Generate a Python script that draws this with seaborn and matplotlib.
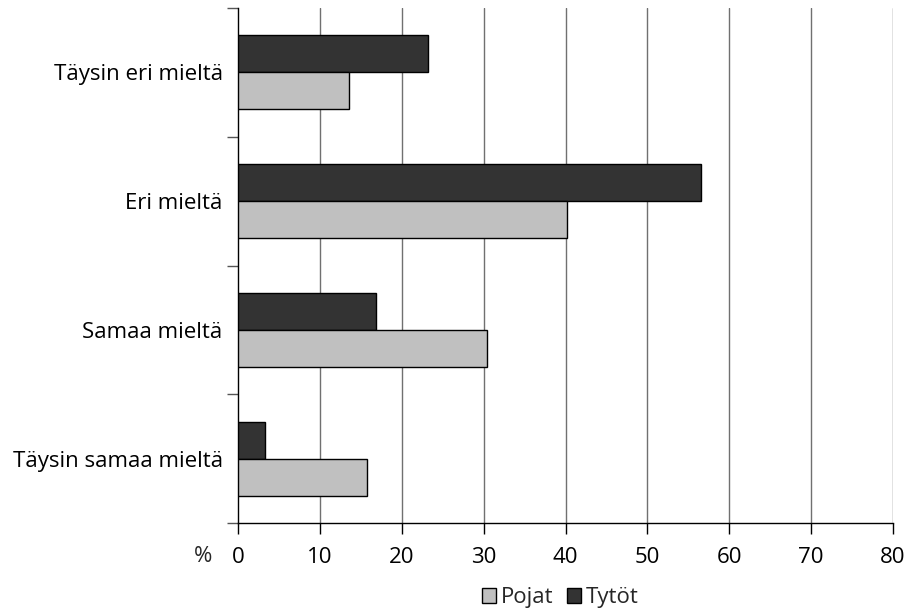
import matplotlib
matplotlib.use("Agg")
import matplotlib.pyplot as plt
from matplotlib.patches import Patch
import seaborn as sns
import pandas as pd

categories = ["Täysin eri mieltä", "Eri mieltä", "Samaa mieltä", "Täysin samaa mieltä"]
tytot = [23.2, 56.5, 16.9, 3.3]
pojat = [13.6, 40.2, 30.4, 15.8]
series_names = ["Tytöt", "Pojat"]
x_ticks = [0, 10, 20, 30, 40, 50, 60, 70, 80]

df = pd.DataFrame({
    "kategoria": categories * 2,
    "prosentti": tytot + pojat,
    "ryhmä": [series_names[0]] * len(categories) + [series_names[1]] * len(categories),
})

sns.set_theme(style="white")
plt.rcParams["font.family"] = ["Open Sans", "DejaVu Sans"]

FS = 16
colors = {"Tytöt": "#333333", "Pojat": "#c0c0c0"}

fig = plt.figure(figsize=(9.1, 6.12), dpi=100)
ax = fig.add_axes([238 / 910, 1 - 523 / 612, (893 - 238) / 910, (523 - 8) / 612])

sns.barplot(data=df, y="kategoria", x="prosentti", hue="ryhmä",
            hue_order=series_names, order=categories, palette=colors,
            orient="h", width=0.575, edgecolor="black", linewidth=1,
            legend=False, ax=ax, zorder=3)

ax.set_xlim(0, 80)
ax.set_ylim(len(categories) - 0.5, -0.5)
ax.set_xticks(x_ticks)
ax.set_xticklabels([str(t) for t in x_ticks], fontsize=FS, color="black")
for t in x_ticks[1:]:
    ax.axvline(t, color="#707070", linewidth=1, zorder=1)

# category labels sit between boundary ticks
ax.set_yticks([i - 0.5 for i in range(len(categories) + 1)])
ax.set_yticklabels([])
ax.set_yticks(range(len(categories)), minor=True)
ax.set_yticklabels(categories, minor=True, fontsize=FS, color="black")
ax.tick_params(axis="y", which="major", length=8, width=1, color="#555555", direction="out", left=True)
ax.tick_params(axis="y", which="minor", length=0, pad=11)
ax.tick_params(axis="x", length=8, width=1, color="black", direction="out", bottom=True, pad=9)

ax.set_xlabel("")
ax.set_ylabel("")
for side in ["top", "right"]:
    ax.spines[side].set_visible(False)
ax.spines["left"].set_color("black")
ax.spines["bottom"].set_color("black")
ax.spines["left"].set_linewidth(1)
ax.spines["bottom"].set_linewidth(1)

fig.text(203 / 910, 1 - 557 / 612, "%", fontsize=FS, ha="center", va="center")

handles = [Patch(facecolor=colors["Pojat"], edgecolor="black", label="Pojat"),
           Patch(facecolor=colors["Tytöt"], edgecolor="black", label="Tytöt")]
fig.legend(handles=handles, loc="center", bbox_to_anchor=(560 / 910, 1 - 598 / 612),
           ncol=2, frameon=False, fontsize=FS, handlelength=0.65, handleheight=0.65,
           handletextpad=0.2, columnspacing=0.6, borderpad=0)

fig.savefig("out.png", dpi=100)
